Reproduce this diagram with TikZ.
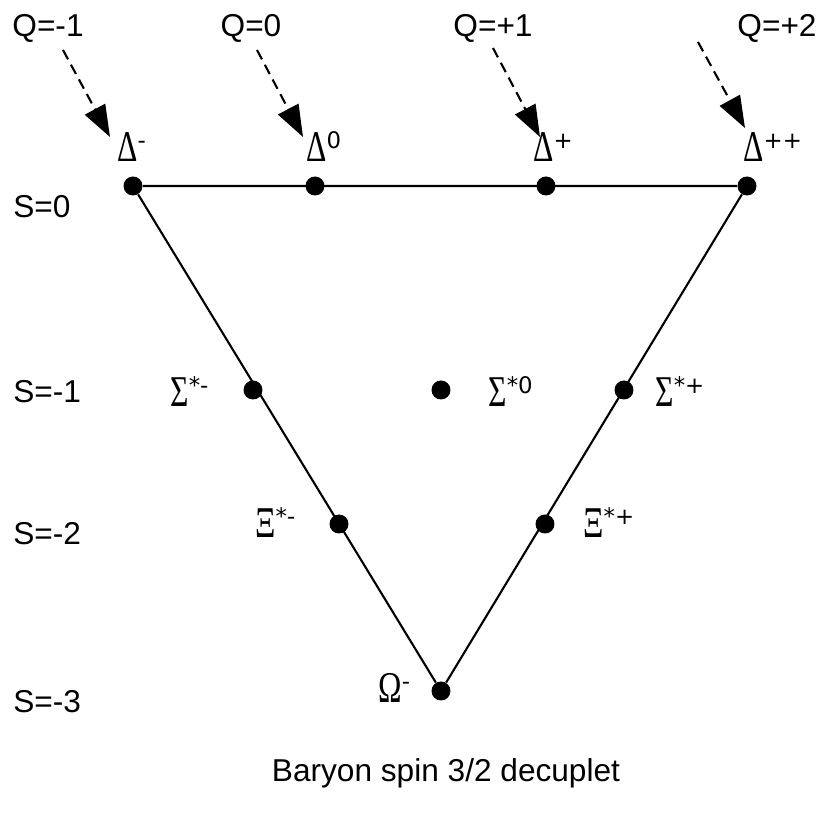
\documentclass[tikz,border=0pt]{standalone}
\usepackage{fontspec}
\setmainfont{Liberation Sans}
\newfontfamily\grkfont[FakeStretch=0.72]{Liberation Serif}
\newfontfamily\supfont{DejaVu Sans}
\usepackage{tikz}
\usetikzlibrary{arrows.meta, positioning}

% particle name with its superscript
\newcommand{\plab}[2]{{\grkfont\fontsize{25}{25}\selectfont #1}\raisebox{7.5pt}{\supfont\fontsize{13}{13}\selectfont #2}}

\tikzset{
  dot/.style={circle, fill=black, inner sep=0pt, minimum size=0.38cm},
  qlabel/.style={font=\fontsize{18}{18}\selectfont, inner sep=0pt},
  plabel/.style={inner sep=0pt, anchor=base west},
  qarrow/.style={dashed, dash pattern=on 6pt off 3.5pt, line width=1.2pt,
                 -{Triangle[length=18pt, width=13pt]}},
  edge/.style={line width=1.2pt}
}

\begin{document}
\begin{tikzpicture}[x=0.02cm, y=-0.02cm]
  \useasboundingbox (0,0) rectangle (823,817);

  % charge and strangeness labels
  \node[qlabel, anchor=base] (qm1) at (48,37) {Q=-1};
  \node[qlabel, anchor=base] (q0) at (251,37) {Q=0};
  \node[qlabel, anchor=base] (qp1) at (493,37) {Q=+1};
  \node[qlabel, anchor=base] (qp2) at (777,37) {Q=+2};
  \node[qlabel, anchor=base west] (s0) at (13,218) {S=0};
  \node[qlabel, anchor=base west] (sm1) at (13,403) {S=-1};
  \node[qlabel, anchor=base west] (sm2) at (13,545) {S=-2};
  \node[qlabel, anchor=base west] (sm3) at (13,713) {S=-3};

  % particles
  \node[dot] (dm) at (133,186) {};
  \node[dot] (d0) at (315,186) {};
  \node[dot] (dp) at (546,186) {};
  \node[dot] (dpp) at (747,186) {};
  \node[dot] (sgm) at (253,390) {};
  \node[dot] (sg0) at (441,390) {};
  \node[dot] (sgp) at (624,390) {};
  \node[dot] (xim) at (339,524) {};
  \node[dot] (xip) at (545,524) {};
  \node[dot] (om) at (441,691) {};

  \node[plabel] (ldm) at (117,162) {\plab{Δ}{-}};
  \node[plabel] (ld0) at (306,162) {\plab{Δ}{0}};
  \node[plabel] (ldp) at (533,162) {\plab{Δ}{+}};
  \node[plabel] (ldpp) at (743,162) {\plab{Δ}{++}};
  \node[plabel] (lsgm) at (170,407) {\plab{Σ}{*-}};
  \node[plabel] (lsg0) at (488,407) {\plab{Σ}{*0}};
  \node[plabel] (lsgp) at (655,407) {\plab{Σ}{*+}};
  \node[plabel] (lxim) at (255,538) {\plab{Ξ}{*-}};
  \node[plabel] (lxip) at (583,538) {\plab{Ξ}{*+}};
  \node[plabel] (lom) at (378,703) {\plab{Ω}{-}};

  % triangle
  \draw[edge] (dm) -- (dpp) -- (om) -- (dm);

  % charge arrows
  \coordinate (tm1) at (63,50);
  \coordinate (t0) at (257,50);
  \coordinate (tp1) at (493,48);
  \coordinate (tp2) at (698,42);
  \coordinate (hm1) at (110,137);
  \coordinate (h0) at (303,137);
  \coordinate (hp1) at (540,137);
  \coordinate (hp2) at (745,128);
  \draw[qarrow] (tm1) -- (hm1);
  \draw[qarrow] (t0) -- (h0);
  \draw[qarrow] (tp1) -- (hp1);
  \draw[qarrow] (tp2) -- (hp2);

  \node[qlabel, anchor=base] (title) at (446,782) {Baryon spin 3/2 decuplet};
\end{tikzpicture}
\end{document}
